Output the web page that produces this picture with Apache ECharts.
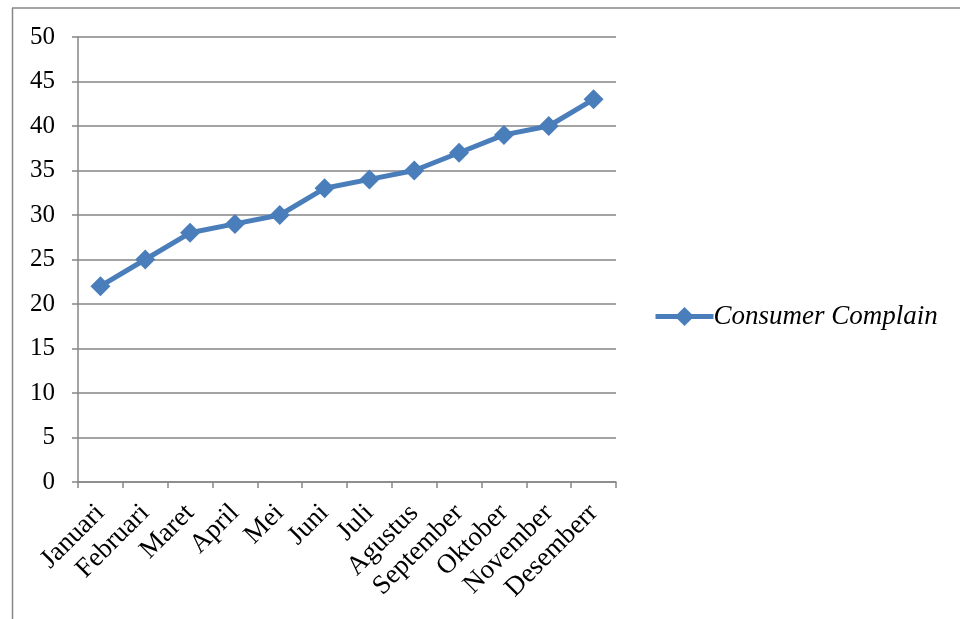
<!DOCTYPE html>
<html><head><meta charset="utf-8">
<script src="https://cdn.jsdelivr.net/npm/echarts@6/dist/echarts.min.js"></script>
<style>html,body{margin:0;padding:0;background:#fff}#c{width:960px;height:619px}</style>
</head><body><div id="c"></div>
<script>
const categories = ['Januari','Februari','Maret','April','Mei','Juni','Juli','Agustus','September','Oktober','November','Desemberr'];
const complaints = [22, 25, 28, 29, 30, 33, 34, 35, 37, 39, 40, 43];
const seriesName = 'Consumer Complain';
const font = '"Liberation Serif", "Times New Roman", serif';
const chart = echarts.init(document.getElementById('c'));
chart.setOption({
  animation: false,
  backgroundColor: '#fff',
  graphic: [
    {type: 'line', shape: {x1: 12.5, y1: 8, x2: 12.5, y2: 619}, style: {stroke: '#868686', lineWidth: 1.5}},
    {type: 'line', shape: {x1: 12, y1: 8, x2: 960, y2: 8}, style: {stroke: '#868686', lineWidth: 1.5}}
  ],
  grid: {left: 78, top: 37, right: 344, bottom: 137, containLabel: false},
  legend: {
    orient: 'vertical', left: 648, top: 298,
    itemWidth: 58, itemHeight: 24, itemGap: 0,
    lineStyle: {width: 5},
    textStyle: {fontFamily: font, fontSize: 27, fontStyle: 'italic', color: '#000', padding: [0,0,0,-5]},
    data: [seriesName]
  },
  xAxis: {
    type: 'category', data: categories, boundaryGap: true,
    axisLine: {lineStyle: {color: '#868686', width: 1.5}},
    axisTick: {show: true, length: 6, lineStyle: {color: '#868686', width: 1.5}},
    axisLabel: {rotate: 45, fontFamily: font, fontSize: 27, color: '#000', margin: 27, interval: 0}
  },
  yAxis: {
    type: 'value', min: 0, max: 50, interval: 5,
    axisLine: {show: true, lineStyle: {color: '#868686', width: 1.5}},
    axisTick: {show: true, length: 6, lineStyle: {color: '#868686', width: 1.5}},
    splitLine: {lineStyle: {color: '#868686', width: 1.5}},
    axisLabel: {fontFamily: font, fontSize: 25, color: '#000', margin: 23}
  },
  series: [{
    name: seriesName, type: 'line', data: complaints,
    symbol: 'diamond', symbolSize: 20,
    lineStyle: {color: '#4a7ebb', width: 5},
    itemStyle: {color: '#4a7ebb'}
  }]
});
</script></body></html>
